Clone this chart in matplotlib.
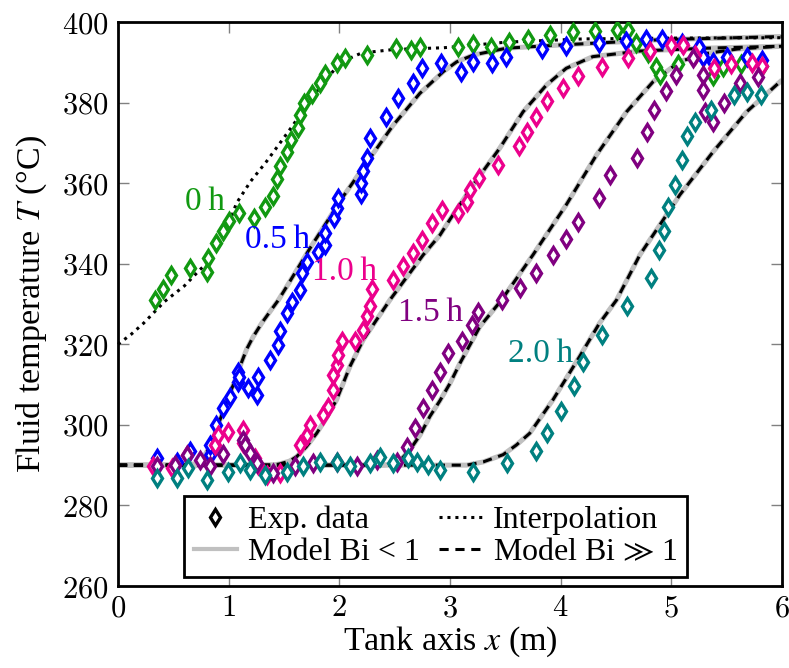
import matplotlib
matplotlib.use("Agg")
import matplotlib.pyplot as plt
from matplotlib.lines import Line2D

plt.rcParams['font.family'] = ['Liberation Serif', 'DejaVu Serif']
plt.rcParams['mathtext.fontset'] = 'stix'

# ---------------- experimental data ----------------
x_0h = [0.33, 0.41, 0.48, 0.65, 0.81, 0.80, 0.885, 0.945, 1.006, 1.096, 1.229, 1.328, 1.403, 1.434,
        1.463, 1.53, 1.56, 1.629, 1.644, 1.68, 1.75, 1.825, 1.87, 1.975, 2.05, 2.25, 2.51, 2.65, 2.73,
        3.074, 3.21, 3.367, 3.535, 3.707, 3.90, 4.107, 4.31, 4.505, 4.61, 4.68, 4.79, 4.86, 4.896,
        5.06, 5.38, 5.47, 5.63, 5.82]
T_0h = [331.0, 333.7, 337.2, 338.9, 341.4, 337.9, 345.2, 348.1, 350.6, 352.6, 351.3, 354.2, 356.7, 361.0,
        364.3, 367.8, 370.7, 373.8, 376.9, 379.8, 382.1, 384.8, 387.0, 389.8, 391.0, 391.8, 393.5, 393.1, 393.7,
        393.7, 394.5, 393.7, 395.1, 395.9, 396.8, 397.6, 397.8, 398.0, 397.9, 394.7, 392.2, 388.9, 386.8,
        389.5, 386.7, 388.9, 389.5, 389.2]

x_05h = [0.35, 0.53, 0.65, 0.83, 0.83, 0.89, 0.95, 1.01, 1.087, 1.087, 1.096, 1.177, 1.253, 1.268,
         1.373, 1.448, 1.463, 1.524, 1.569, 1.644, 1.66, 1.705, 1.81, 1.87, 1.87, 1.951, 1.981, 1.99,
         2.20, 2.20, 2.216, 2.247, 2.276, 2.42, 2.53, 2.668, 2.743, 2.915, 3.096, 3.21, 3.376, 3.51,
         3.827, 4.047, 4.348, 4.589, 4.77, 4.92, 5.10, 5.25, 5.287, 5.372, 5.50, 5.68, 5.815]
T_05h = [291.7, 290.9, 293.6, 292.6, 295.0, 300.0, 304.1, 307.0, 313.2, 310.7, 312.0, 309.1, 307.4, 312.0,
         316.1, 319.9, 323.2, 327.7, 330.6, 333.5, 337.6, 340.5, 342.9, 344.7, 347.6, 351.4, 353.9, 356.4,
         357.2, 360.0, 362.9, 366.2, 371.2, 376.5, 381.1, 384.8, 388.5, 389.9, 387.7, 390.1, 389.8, 391.4,
         393.2, 394.0, 394.7, 395.3, 395.8, 395.9, 394.7, 393.9, 391.4, 390.1, 391.4, 391.4, 390.6]

x_10h = [0.32, 0.485, 0.62, 0.876, 0.906, 0.996, 1.132, 1.132, 1.238, 1.268, 1.343, 1.463, 1.644, 1.705,
         1.734, 1.855, 1.90, 1.945, 1.945, 1.975, 1.99, 2.02, 2.14, 2.216, 2.247, 2.276, 2.292, 2.487,
         2.577, 2.668, 2.743, 2.834, 2.924, 3.074, 3.15, 3.18, 3.264, 3.435, 3.622, 3.692, 3.776, 3.873,
         4.017, 4.153, 4.375, 4.61, 4.806, 4.995, 5.107, 5.212, 5.384, 5.535, 5.725, 5.815]
T_10h = [289.7, 289.3, 292.6, 295.0, 297.5, 298.3, 298.8, 295.5, 291.7, 290.1, 287.6, 288.0, 295.0, 297.5,
         300.0, 302.5, 304.5, 308.7, 312.4, 314.9, 317.4, 320.7, 320.7, 323.6, 326.9, 329.5, 333.7, 336.0,
         339.5, 342.6, 345.9, 350.0, 353.3, 352.5, 355.4, 358.3, 361.2, 364.5, 369.1, 372.8, 376.5, 380.4,
         383.7, 386.6, 388.9, 391.0, 392.8, 394.3, 394.3, 391.8, 388.5, 389.5, 389.9, 389.2]

x_15h = [0.35, 0.515, 0.62, 0.74, 0.83, 0.95, 1.132, 1.147, 1.192, 1.253, 1.403, 1.60, 1.765, 1.975,
         2.156, 2.337, 2.518, 2.608, 2.683, 2.758, 2.834, 2.909, 2.984, 3.105, 3.195, 3.255, 3.466,
         3.632, 3.776, 3.933, 4.047, 4.158, 4.348, 4.444, 4.69, 4.78, 4.842, 4.95, 5.04, 5.197, 5.282,
         5.287, 5.303, 5.372, 5.474, 5.619, 5.784]
T_15h = [289.7, 290.1, 292.6, 291.4, 289.7, 292.8, 296.3, 295.0, 293.0, 290.5, 288.0, 289.7, 290.5, 290.8,
         289.7, 291.2, 290.9, 294.6, 299.2, 304.1, 308.7, 313.2, 317.8, 320.7, 324.8, 328.1, 331.0,
         333.9, 337.6, 342.2, 346.2, 350.3, 356.3, 362.0, 366.3, 372.8, 378.2, 382.9, 386.8, 391.0, 386.8,
         383.1, 377.7, 375.3, 379.8, 384.8, 386.4]

x_20h = [0.35, 0.53, 0.636, 0.80, 0.996, 1.10, 1.19, 1.328, 1.524, 1.674, 1.825, 1.975, 2.096, 2.276,
         2.367, 2.487, 2.622, 2.698, 2.803, 2.909, 3.204, 3.511, 3.776, 3.878, 3.999, 4.122, 4.203, 4.378,
         4.595, 4.812, 4.89, 4.935, 4.971, 5.032, 5.098, 5.143, 5.212, 5.357, 5.567, 5.685, 5.806]
T_20h = [286.8, 286.8, 289.3, 286.4, 288.4, 290.5, 288.8, 287.6, 288.4, 289.7, 290.9, 290.8, 289.9, 290.5,
         292.1, 290.5, 291.7, 290.8, 290.1, 288.8, 288.4, 290.5, 293.4, 297.9, 303.5, 309.7, 315.7, 322.3,
         329.4, 336.4, 343.4, 348.1, 354.0, 359.6, 365.8, 371.8, 375.3, 378.2, 381.9, 382.7, 381.9]

# ---------------- interpolation of t = 0 h ----------------
x_interp = [0.0, 0.12, 0.23, 0.42, 0.60, 0.74, 0.83, 0.95, 1.07, 1.20, 1.34, 1.55, 1.795, 1.95, 2.035,
            2.2, 2.5, 2.94, 3.51, 4.2, 5.0, 6.0]
T_interp = [320.0, 322.5, 325.2, 330.6, 334.5, 338.5, 340.8, 346.0, 355.0, 360.5, 365.3, 373.2, 382.7,
            388.0, 390.3, 392.3, 393.2, 393.6, 395.0, 395.8, 396.0, 396.1]

# ---------------- model curves ----------------
xm_05 = [0.0, 0.60, 0.741, 0.831, 0.921, 1.012, 1.072, 1.102, 1.163, 1.222, 1.30, 1.373, 1.45, 1.524,
         1.734, 2.035, 2.276, 2.487, 2.728, 2.94, 3.06, 3.21, 3.51, 4.0, 4.9, 6.0]
Tm_05 = [290.0, 290.0, 290.5, 294.6, 301.2, 307.9, 312.0, 314.5, 318.8, 321.9, 325.3, 328.1, 331.0, 334.3,
         343.8, 356.7, 366.2, 374.4, 382.3, 387.7, 390.1, 391.8, 393.5, 394.3, 395.6, 396.4]

xm_10 = [0.0, 1.40, 1.46, 1.55, 1.614, 1.70, 1.795, 1.885, 1.975, 2.096, 2.216, 2.337, 2.457, 2.758,
         2.909, 3.0, 3.21, 3.45, 3.66, 3.873, 4.05, 4.29, 4.716, 5.32, 6.0]
Tm_10 = [290.0, 290.0, 290.3, 291.0, 292.1, 294.5, 297.9, 301.8, 306.2, 314.5, 321.1, 326.1, 331.0, 342.2,
         347.1, 351.0, 359.6, 368.7, 377.7, 384.4, 388.5, 391.4, 392.8, 393.5, 394.0]

xm_15 = [0.0, 2.40, 2.487, 2.56, 2.638, 2.73, 2.818, 2.909, 3.0, 3.09, 3.27, 3.466, 3.75, 4.05, 4.324,
         4.595, 4.836, 5.077, 5.318, 5.6, 6.0]
Tm_15 = [290.0, 290.0, 290.3, 291.5, 293.8, 297.5, 302.1, 306.0, 310.3, 315.3, 324.4, 331.0, 342.2, 354.6,
         367.0, 377.7, 385.2, 390.2, 392.2, 393.3, 394.0]

xm_20 = [0.0, 3.15, 3.30, 3.48, 3.60, 3.72, 3.93, 4.17, 4.35, 4.505, 4.716, 5.077, 5.378, 5.68, 6.0]
Tm_20 = [290.0, 290.0, 290.8, 292.6, 295.0, 297.9, 306.2, 316.9, 325.2, 331.0, 342.2, 357.1, 367.8,
         377.7, 385.6]

labels = ['0 h', '0.5 h', '1.0 h', '1.5 h', '2.0 h']
label_x = [0.79, 1.44, 2.05, 2.82, 3.82]
label_T = [355.3, 345.9, 338.0, 327.8, 317.6]
colors = ['#119911', '#0000ff', '#ec008c', '#800080', '#008080']

xticks = [0, 1, 2, 3, 4, 5, 6]
yticks = [260, 280, 300, 320, 340, 360, 380, 400]

W, H = 789, 668
fig = plt.figure(figsize=(W / 100, H / 100), dpi=100)
ax = fig.add_axes([118 / W, 1 - 586 / H, (782 - 118) / W, (586 - 22) / H])

MS, MEW = 8, 2.4
dash = (0, (3.0, 2.2))
dots = (0, (1.0, 1.6))

# model curves: light grey solid under black dashed
for xm, Tm in [(xm_05, Tm_05), (xm_10, Tm_10), (xm_15, Tm_15), (xm_20, Tm_20)]:
    ax.plot(xm, Tm, color='#c0c0c0', lw=3.6, solid_capstyle='butt', zorder=2, clip_on=False)
    ax.plot(xm, Tm, color='black', lw=2.2, ls=dash, zorder=3, clip_on=False)

ax.plot(x_interp, T_interp, color='black', lw=2.2, ls=dots, zorder=3, clip_on=False)

series = [(x_0h, T_0h), (x_05h, T_05h), (x_10h, T_10h), (x_15h, T_15h), (x_20h, T_20h)]
for (xs, Ts), c in zip(series, colors):
    ax.plot(xs, Ts, ls='none', marker='d', ms=MS, mew=MEW, mec=c, mfc='white', zorder=4)

for lab, lx, lt, c in zip(labels, label_x, label_T, colors):
    ax.text(lx, lt, lab.replace(' ', '\u2009'), color=c, fontsize=24, ha='center', va='center', zorder=5)

ax.set_xlim(0, 6)
ax.set_ylim(260, 400)
ax.set_xticks(xticks)
ax.set_yticks(yticks)
ax.set_xticklabels(['$%d$' % v for v in xticks])
ax.set_yticklabels(['$%d$' % v for v in yticks])
for t in ax.get_xticklabels() + ax.get_yticklabels():
    t.set_math_fontfamily('cm')
    t.set_fontsize(22)
ax.tick_params(direction='in', length=8, width=1.0, color='#808080', top=True, right=True)
ax.tick_params(axis='x', pad=6)
ax.tick_params(axis='y', pad=7)
for s in ax.spines.values():
    s.set_linewidth(2.0)
    s.set_color('black')

ax.set_xlabel('Tank axis $x$ (m)', fontsize=24.5, labelpad=1)
ax.set_ylabel('Fluid temperature $T$ (°C)', fontsize=24.5, labelpad=9)

handles = [
    Line2D([], [], ls='none', marker='d', ms=MS, mew=MEW, mec='black', mfc='white'),
    Line2D([], [], color='#c0c0c0', lw=3.0),
    Line2D([], [], color='black', lw=2.2, ls=dots),
    Line2D([], [], color='black', lw=2.2, ls=dash),
]
leg_labels = ['Exp. data', 'Model Bi < 1', 'Interpolation', r'Model Bi$\,{\gg}\,$1']
leg = fig.legend(handles, leg_labels, ncol=2, loc='upper left',
                 bbox_to_anchor=(184 / W, 1 - 496 / H), bbox_transform=fig.transFigure,
                 fontsize=23, frameon=True, fancybox=False, edgecolor='black', framealpha=1,
                 handlelength=1.35, handletextpad=0.35, columnspacing=0.6, labelspacing=0.08,
                 borderpad=0.3, borderaxespad=0.0)
leg.get_frame().set_linewidth(2.0)
leg.set_zorder(10)

fig.savefig('out.png', dpi=100)
